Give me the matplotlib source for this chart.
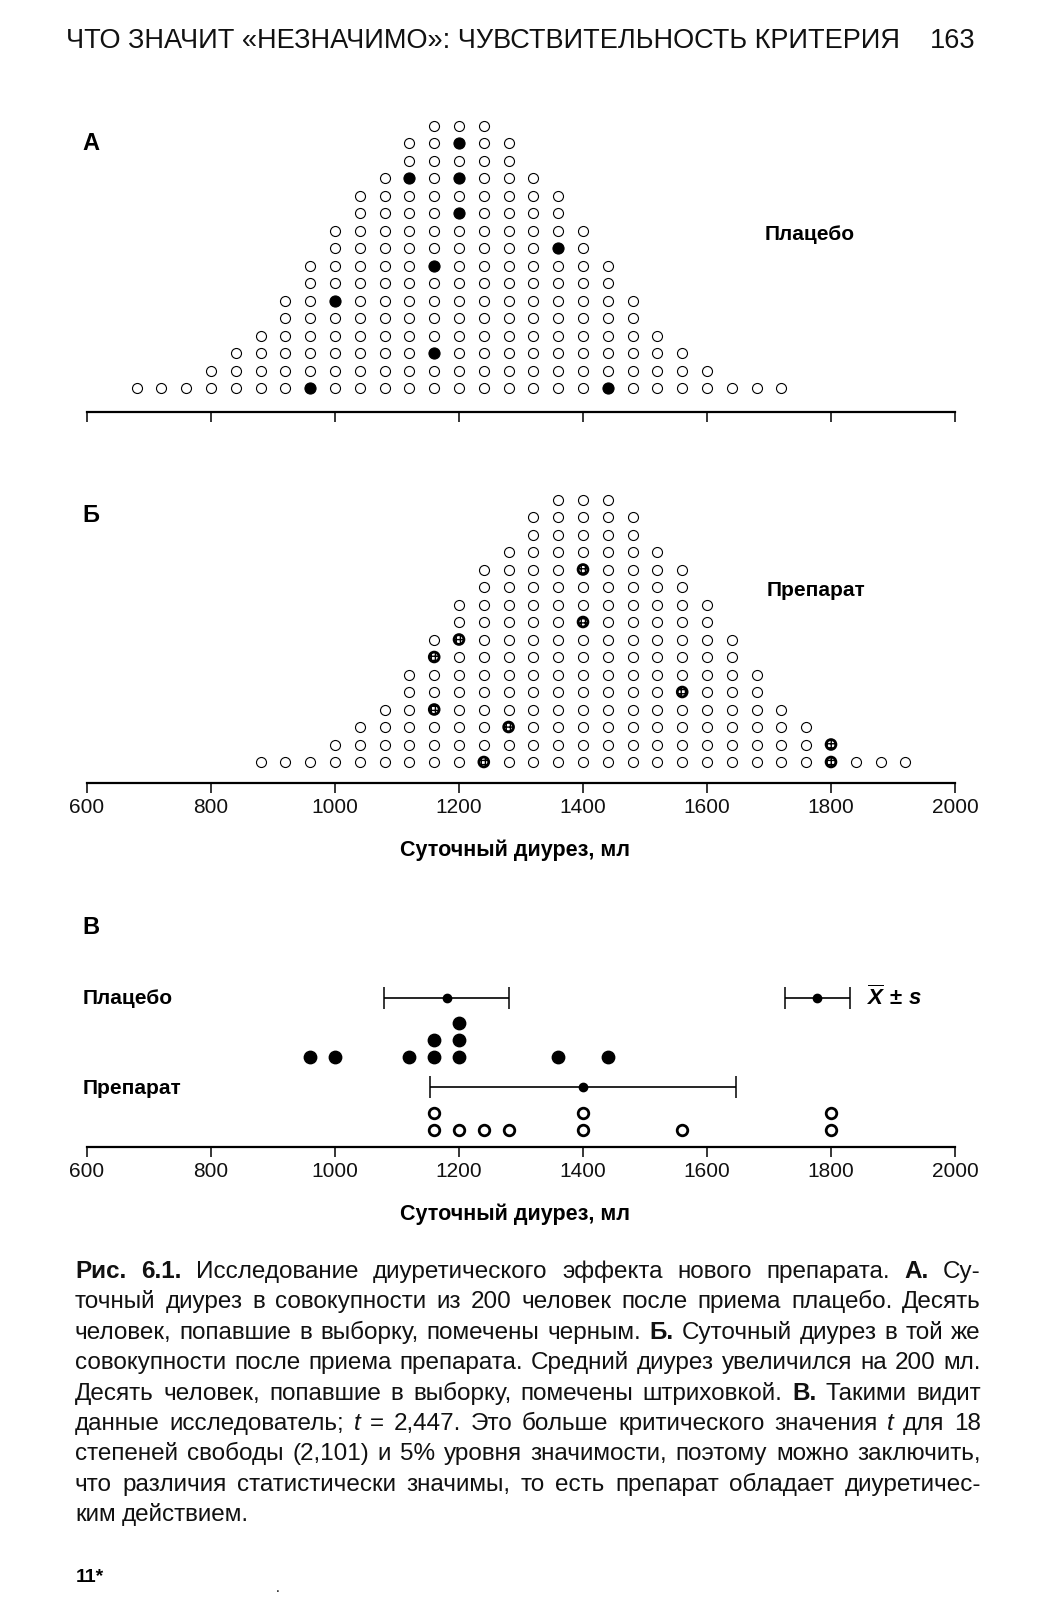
import numpy as np
import matplotlib
matplotlib.use("Agg")
import matplotlib.pyplot as plt

W, H = 1053, 1600

# population of 200 people, 40-ml bins: bin centre and number of people in it
placebo_bins = [680, 720, 760, 800, 840, 880, 920, 960, 1000, 1040, 1080, 1120, 1160, 1200,
                1240, 1280, 1320, 1360, 1400, 1440, 1480, 1520, 1560, 1600, 1640, 1680, 1720]
placebo_counts = [1, 1, 1, 2, 3, 4, 6, 8, 10, 12, 13, 15, 16, 16,
                  16, 15, 13, 12, 10, 8, 6, 4, 3, 2, 1, 1, 1]
drug_bins = [880, 920, 960, 1000, 1040, 1080, 1120, 1160, 1200, 1240, 1280, 1320, 1360, 1400,
             1440, 1480, 1520, 1560, 1600, 1640, 1680, 1720, 1760, 1800, 1840, 1880, 1920]
drug_counts = [1, 1, 1, 2, 3, 4, 6, 8, 10, 12, 13, 15, 16, 16,
               16, 15, 13, 12, 10, 8, 6, 4, 3, 2, 1, 1, 1]

# the ten sampled people: bin and position in the stack (1 = bottom)
placebo_sample_bin = [960, 1000, 1120, 1160, 1160, 1200, 1200, 1200, 1360, 1440]
placebo_sample_row = [1, 6, 13, 3, 8, 11, 13, 15, 9, 1]
drug_sample_bin = [1160, 1160, 1200, 1240, 1280, 1400, 1400, 1560, 1800, 1800]
drug_sample_row = [4, 7, 8, 1, 3, 9, 12, 5, 1, 2]

placebo_mean, placebo_sd = 1180, 101
drug_mean, drug_sd = 1400, 246
legend_mean, legend_sd = 1778, 52

ticks = [600, 800, 1000, 1200, 1400, 1600, 1800, 2000]

SANS = "Liberation Sans"
plt.rcParams["mathtext.fontset"] = "custom"
plt.rcParams["mathtext.rm"] = "Liberation Sans:bold"
plt.rcParams["mathtext.it"] = "Liberation Sans:bold:italic"
plt.rcParams["mathtext.bf"] = "Liberation Sans:bold"

fig = plt.figure(figsize=(W / 100, H / 100), dpi=100)
fig.patch.set_facecolor("white")


def px_axes(left, top, right, bottom):
    return fig.add_axes([left / W, 1 - bottom / H, (right - left) / W, (bottom - top) / H])


def T(x, y, s, **kw):
    return fig.text(x / W, 1 - y / H, s, **kw)


def setup_axis(ax, labels):
    ax.set_xlim(600, 2000)
    for sp in ["left", "right", "top"]:
        ax.spines[sp].set_visible(False)
    ax.spines["bottom"].set_linewidth(1.6)
    ax.spines["bottom"].set_bounds(600, 2000)
    ax.set_yticks([])
    ax.set_xticks(ticks)
    ax.tick_params(axis="x", direction="out", length=7, width=1.1, pad=4)
    if labels:
        ax.set_xticklabels([str(t) for t in ticks], fontfamily=SANS, fontsize=15,
                           color="#111111")
    else:
        ax.set_xticklabels([])
    ax.patch.set_alpha(0)


def dot_panel(ax, bins, counts, s_bin, s_row):
    marked = set(zip(s_bin, s_row))
    xs, ys = [], []
    for b, c in zip(bins, counts):
        for r in range(1, c + 1):
            if (b, r) not in marked:
                xs.append(b)
                ys.append(r)
    ax.scatter(xs, ys, s=52, facecolor="white", edgecolor="black", linewidth=0.8,
               clip_on=False, zorder=3)


ROW = 17.5  # pixel pitch of the stacks

# ---- panel A
top, bottom = 110, 412
axA = px_axes(87, top, 955, bottom)
y0 = -6.5 / ROW
axA.set_ylim(y0, y0 + (bottom - top) / ROW)
setup_axis(axA, False)
dot_panel(axA, placebo_bins, placebo_counts, placebo_sample_bin, placebo_sample_row)
axA.scatter(placebo_sample_bin, placebo_sample_row, s=64, facecolor="black",
            edgecolor="black", linewidth=0.8, zorder=4, clip_on=False)

# ---- panel B
top, bottom = 480, 783
axB = px_axes(87, top, 955, bottom)
y0 = -3.5 / ROW
axB.set_ylim(y0, y0 + (bottom - top) / ROW)
setup_axis(axB, True)
dot_panel(axB, drug_bins, drug_counts, drug_sample_bin, drug_sample_row)
axB.scatter(drug_sample_bin, drug_sample_row, s=50, facecolor="white", edgecolor="black",
            linewidth=2.0, hatch="++++", zorder=4, clip_on=False)

# ---- panel C
top, bottom = 940, 1147
axC = px_axes(87, top, 955, bottom)
axC.set_ylim(0, bottom - top)
setup_axis(axC, True)


def stack_rows(values):
    seen = {}
    rows = []
    for v in values:
        rows.append(seen.get(v, 0))
        seen[v] = seen.get(v, 0) + 1
    return rows


pitch = 17
pr = stack_rows(placebo_sample_bin)
axC.scatter(placebo_sample_bin, [90 + pitch * r for r in pr], s=80, facecolor="black",
            edgecolor="black", zorder=4, clip_on=False)
dr = stack_rows(drug_sample_bin)
axC.scatter(drug_sample_bin, [17 + pitch * r for r in dr], s=58, facecolor="white",
            edgecolor="black", linewidth=2.0, zorder=4, clip_on=False)

for m, s, yy in [(placebo_mean, placebo_sd, 149), (drug_mean, drug_sd, 60),
                 (legend_mean, legend_sd, 149)]:
    axC.errorbar([m], [yy], xerr=[s], fmt="o", color="black", ms=6, elinewidth=1.2,
                 capsize=8, capthick=1.1, zorder=5)

# ---- texts
T(66, 48, "ЧТО ЗНАЧИТ «НЕЗНАЧИМО»: ЧУВСТВИТЕЛЬНОСТЬ КРИТЕРИЯ", fontfamily=SANS,
  fontsize=19.5, va="baseline", color="#111111")
T(975, 48, "163", fontfamily=SANS, fontsize=19.5, va="baseline", ha="right", color="#111111")

bold = dict(fontfamily=SANS, fontweight="bold", va="center")
T(82, 143, "А", fontsize=17, **bold)
T(82, 515, "Б", fontsize=17, **bold)
T(82, 928, "В", fontsize=17, **bold)
T(765, 235, "Плацебо", fontsize=15, **bold)
T(767, 590, "Препарат", fontsize=15, **bold)
T(83, 998, "Плацебо", fontsize=15, **bold)
T(83, 1089, "Препарат", fontsize=15, **bold)
T(515, 850, "Суточный диурез, мл", fontsize=15.5, ha="center", **bold)
T(515, 1214, "Суточный диурез, мл", fontsize=15.5, ha="center", **bold)
T(866, 997, r"$\overline{X}\,\pm\,s$", fontsize=16, va="center")

# ---- caption, justified
caption = [
    [("Рис.", "b"), ("6.1.", "b"), ("Исследование", ""), ("диуретического", ""), ("эффекта", ""),
     ("нового", ""), ("препарата.", ""), ("А.", "b"), ("Су-", "")],
    [("точный", ""), ("диурез", ""), ("в", ""), ("совокупности", ""), ("из", ""), ("200", ""),
     ("человек", ""), ("после", ""), ("приема", ""), ("плацебо.", ""), ("Десять", "")],
    [("человек,", ""), ("попавшие", ""), ("в", ""), ("выборку,", ""), ("помечены", ""),
     ("черным.", ""), ("Б.", "b"), ("Суточный", ""), ("диурез", ""), ("в", ""), ("той", ""), ("же", "")],
    [("совокупности", ""), ("после", ""), ("приема", ""), ("препарата.", ""), ("Средний", ""),
     ("диурез", ""), ("увеличился", ""), ("на", ""), ("200", ""), ("мл.", "")],
    [("Десять", ""), ("человек,", ""), ("попавшие", ""), ("в", ""), ("выборку,", ""),
     ("помечены", ""), ("штриховкой.", ""), ("В.", "b"), ("Такими", ""), ("видит", "")],
    [("данные", ""), ("исследователь;", ""), ("t", "i"), ("=", ""), ("2,447.", ""), ("Это", ""),
     ("больше", ""), ("критического", ""), ("значения", ""), ("t", "i"), ("для", ""), ("18", "")],
    [("степеней", ""), ("свободы", ""), ("(2,101)", ""), ("и", ""), ("5%", ""), ("уровня", ""),
     ("значимости,", ""), ("поэтому", ""), ("можно", ""), ("заключить,", "")],
    [("что", ""), ("различия", ""), ("статистически", ""), ("значимы,", ""), ("то", ""),
     ("есть", ""), ("препарат", ""), ("обладает", ""), ("диуретичес-", "")],
    [("ким", ""), ("действием.", "")],
]

renderer = fig.canvas.get_renderer()
cap_size = 17.5
x_left, x_right = 75, 981
base = 1278
lead = 30.4
for i, line in enumerate(caption):
    y = base + i * lead
    arts = []
    for word, st in line:
        kw = dict(fontfamily=SANS, fontsize=cap_size, va="baseline", color="#111111")
        if st == "b":
            kw["fontweight"] = "bold"
        if st == "i":
            kw["fontstyle"] = "italic"
        arts.append(T(0, y, word, **kw))
    widths = [a.get_window_extent(renderer).width for a in arts]
    last = i == len(caption) - 1
    gap = 6.5 if last else (x_right - x_left - sum(widths)) / (len(arts) - 1)
    x = x_left
    for a, w in zip(arts, widths):
        a.set_x(x / W)
        x += w + gap

T(76, 1582, "11*", fontfamily=SANS, fontsize=14, fontweight="bold", va="baseline")
T(276, 1592, ".", fontfamily=SANS, fontsize=10, va="baseline")

fig.savefig("out.png", dpi=100, facecolor="white")
